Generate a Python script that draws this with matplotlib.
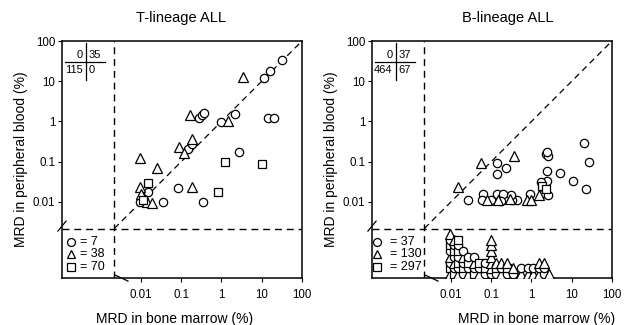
import numpy as np
import matplotlib
matplotlib.use('Agg')
import matplotlib.pyplot as plt

plt.rcParams['font.family'] = ['Liberation Sans', 'DejaVu Sans']

# ---- T-lineage ALL : both BM and PB detectable (BM %, PB %)
t_circ_bm = [32, 16, 11.5, 14.5, 20, 0.28, 0.32, 0.37, 1.0, 2.2, 0.15, 0.19, 2.8,
             0.0147, 0.0095, 0.035, 0.082, 0.34]
t_circ_pb = [34, 18, 12, 1.2, 1.2, 1.2, 1.45, 1.6, 0.96, 1.5, 0.21, 0.28, 0.17,
             0.018, 0.0102, 0.0098, 0.022, 0.0102]
t_tri_bm = [3.5, 0.165, 1.48, 0.09, 0.19, 0.12, 0.0095, 0.0245, 0.0095, 0.01,
            0.0138, 0.0185, 0.19]
t_tri_pb = [12.5, 1.45, 1.05, 0.23, 0.36, 0.16, 0.126, 0.069, 0.023, 0.016,
            0.0102, 0.0096, 0.023]
t_sq_bm = [1.22, 10, 0.015, 0.0114, 0.81]
t_sq_pb = [0.096, 0.09, 0.030, 0.011, 0.018]

# ---- B-lineage ALL
b_circ_bm = [20, 27, 23, 11, 5.1, 2.3, 2.6, 2.45, 2.5, 2.5, 1.7, 2.0, 2.6, 0.43,
             0.32, 0.31, 0.063, 0.058, 0.10, 0.14, 0.20, 0.18, 0.026, 0.137,
             0.14, 0.23, 0.91]
b_circ_pb = [0.29, 0.10, 0.021, 0.034, 0.051, 0.155, 0.14, 0.17, 0.06, 0.034,
             0.031, 0.017, 0.015, 0.011, 0.011, 0.015, 0.0158, 0.011, 0.011,
             0.016, 0.016, 0.0105, 0.011, 0.095, 0.05, 0.071, 0.016]
b_tri_bm = [0.015, 0.055, 0.37, 0.077, 0.15, 0.29, 0.78, 0.95, 1.5]
b_tri_pb = [0.023, 0.091, 0.14, 0.011, 0.011, 0.012, 0.011, 0.011, 0.015]
b_sq_bm = [1.8, 2.3]
b_sq_pb = [0.025, 0.021]

# B-lineage, PB negative: BM value of each column, markers stacked bottom->top
b_neg_bm = [0.0095, 0.012, 0.015, 0.02, 0.027, 0.037, 0.05, 0.072, 0.1, 0.13,
            0.18, 0.25, 0.35, 0.55, 0.8, 1.1, 1.5, 2.0, 2.7]
b_neg_marks = ['tsctcsct', 'sctcsct', 'tcscscs', 'csctc', 'tcsc', 'sctc', 'tcs',
               'csc', 'ctttttt', 'cst', 'tct', 'cst', 'ct', 'tc', 'tc', 'tc',
               'tct', 'cct', 't']

t_table = ['0', '35', '115', '0']
b_table = ['0', '37', '464', '67']
t_counts = ['7', '38', '70']
b_counts = ['37', '130', '297']

ticks = [0.01, 0.1, 1, 10, 100]
tick_labels = ['0.01', '0.1', '1', '10', '100']

thr = 10 ** -2.66
mk = {'c': ('o', 6.0), 't': ('^', 6.5), 's': ('s', 5.5)}


def pts(ax, x, y, code):
	m, s = mk[code]
	ax.plot(x, y, ls='none', marker=m, ms=s, mfc='white', mec='black', mew=0.9,
			zorder=3)


def panel(ax, circ, tri, sq, neg_bm, neg_marks, table, counts, title,
		  title_x, xlab_x, sym_x):
	ax.set_xscale('log')
	ax.set_yscale('log')
	ax.set_xlim(10 ** -3.96, 100)
	ax.set_ylim(10 ** -3.89, 100)

	dash = (0, (5, 3.5))
	ax.axhline(thr, color='black', lw=1.0, ls=dash)
	ax.axvline(thr, color='black', lw=1.0, ls=dash)
	ax.plot([thr, 100], [thr, 100], color='black', lw=0.9, ls=dash)

	pts(ax, circ[0], circ[1], 'c')
	pts(ax, tri[0], tri[1], 't')
	pts(ax, sq[0], sq[1], 's')

	# stacked points with undetectable PB
	for bm, marks in zip(neg_bm, neg_marks):
		for k, c in enumerate(marks):
			pts(ax, [bm], [10 ** (-3.79 + 0.142 * k)], c)

	ax.set_xticks(ticks)
	ax.set_xticklabels(tick_labels)
	ax.set_yticks(ticks)
	ax.set_yticklabels(tick_labels)
	ax.minorticks_off()
	ax.tick_params(direction='out', length=3, width=0.8, labelsize=8.3, pad=2)
	ax.tick_params(axis='x', pad=5)
	for s in ax.spines.values():
		s.set_linewidth(1.1)

	ax.set_title(title, fontsize=10.5, x=title_x, pad=14)
	ax.set_xlabel('MRD in bone marrow (%)', fontsize=10)
	ax.xaxis.set_label_coords(xlab_x, -0.145)
	ax.set_ylabel('MRD in peripheral blood (%)', fontsize=10)
	ax.yaxis.set_label_coords(-0.14, 0.5)

	# axis breaks
	tr = ax.transAxes
	ax.plot([-0.017, 0.017], [0.198, 0.24], color='black', lw=0.9,
			transform=tr, clip_on=False)
	ax.plot([0.22, 0.275], [0.013, -0.013], color='black', lw=0.9,
			transform=tr, clip_on=False)

	# 2x2 table
	ax.plot([0.0125, 0.179], [0.911, 0.911], color='black', lw=0.9, transform=tr)
	ax.plot([0.098, 0.098], [0.835, 0.992], color='black', lw=0.9, transform=tr)
	fs = 8
	ax.text(0.085, 0.94, table[0], ha='right', va='center', fontsize=fs, transform=tr)
	ax.text(0.11, 0.94, table[1], ha='left', va='center', fontsize=fs, transform=tr)
	ax.text(0.085, 0.876, table[2], ha='right', va='center', fontsize=fs, transform=tr)
	ax.text(0.11, 0.876, table[3], ha='left', va='center', fontsize=fs, transform=tr)

	# counts of patients negative in both
	for yy, c, n in zip([0.153, 0.100, 0.048], ['c', 't', 's'], counts):
		m, s = mk[c]
		ax.plot([sym_x], [yy], ls='none', marker=m, ms=s - 0.3, mfc='white',
				mec='black', mew=0.9, transform=tr)
		ax.text(0.075, yy, '= ' + n, ha='left', va='center', fontsize=9,
				transform=tr)


fig = plt.figure(figsize=(6.24, 3.25), dpi=100)
ax1 = fig.add_axes([62 / 624, 1 - 278 / 325, 240 / 624, 237 / 325])
ax2 = fig.add_axes([372 / 624, 1 - 278 / 325, 240 / 624, 237 / 325])

panel(ax1, (t_circ_bm, t_circ_pb), (t_tri_bm, t_tri_pb), (t_sq_bm, t_sq_pb),
	  [], [], t_table, t_counts, 'T-lineage ALL', 0.494, 0.47, 0.036)
panel(ax2, (b_circ_bm, b_circ_pb), (b_tri_bm, b_tri_pb), (b_sq_bm, b_sq_pb),
	  b_neg_bm, b_neg_marks, b_table, b_counts, 'B-lineage ALL', 0.565, 0.686, 0.022)

fig.savefig('out.png', dpi=100)
